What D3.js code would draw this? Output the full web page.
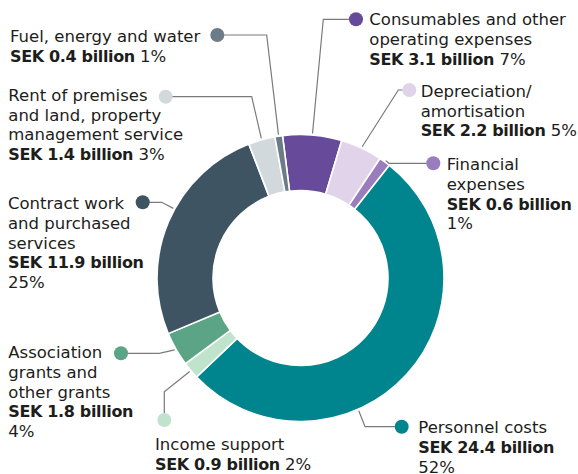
<!DOCTYPE html>
<html>
<head>
<meta charset="utf-8">
<script src="https://cdn.jsdelivr.net/npm/d3@7"></script>
<style>
  html, body { margin: 0; padding: 0; background: #fff; }
  svg { display: block; }
  text { font-family: "DejaVu Sans", sans-serif; fill: #1d1d1b; }
</style>
</head>
<body>
<svg id="chart" width="578" height="474"></svg>
<script>
// Cost categories, clockwise from the top of the ring
const categories = [
  "Consumables and other\noperating expenses",
  "Depreciation/\namortisation",
  "Financial\nexpenses",
  "Personnel costs",
  "Income support",
  "Association\ngrants and\nother grants",
  "Contract work\nand purchased\nservices",
  "Rent of premises\nand land, property\nmanagement service",
  "Fuel, energy and water"
];
// Amounts in SEK billion
const valuesBn = [3.1, 2.2, 0.6, 24.4, 0.9, 1.8, 11.9, 1.4, 0.4];
// Share of total costs, per cent
const sharePct = [7, 5, 1, 52, 2, 4, 25, 3, 1];

const palette = ["#674a9a", "#e1d3ea", "#9a7dbc", "#00848e", "#bfe3cc",
                 "#5ca486", "#3f5463", "#d2d9dd", "#6b7b87"];

// Label placement: text origin, first baseline, marker dot, leader elbow,
// optional leader angle (deg) and whether the percentage sits on its own line
const labelLayout = [
  { x: 369.3, y: 25,    dot: [356, 19.3],   elbow: [323.3, 19.3],  pctBreak: false },
  { x: 420.7, y: 96.7,  dot: [409.3, 90],   elbow: [398.3, 90],    pctBreak: false },
  { x: 446.7, y: 170,   dot: [433.3, 163.3],elbow: [389, 163.3],   pctBreak: true },
  { x: 418.3, y: 433.3, dot: [401.7, 426.7],elbow: [365, 426.7],   pctBreak: true, angle: 156.3 },
  { x: 155,   y: 450,   dot: [164.3, 420],  elbow: [164.3, 391.7], pctBreak: false },
  { x: 8.3,   y: 358,   dot: [121, 353.3],  elbow: [159.3, 353.3], pctBreak: true },
  { x: 8,     y: 209,   dot: [142.7, 202.3],elbow: [161.7, 202.3], pctBreak: true, angle: 298.7 },
  { x: 8.3,   y: 100.7, dot: [165.7, 96.7], elbow: [251.7, 96.7],  pctBreak: false },
  { x: 10,    y: 41.7,  dot: [217.3, 35],   elbow: [266.7, 35],    pctBreak: false }
];

const svg = d3.select("#chart");
const cx = 300.5, cy = 278;
const rOuter = 143.5, rInner = 87.5;
const lineH = 19.8;
const fontSize = 16.5;
const boldSize = 16;
const rad = Math.PI / 180;
const start = -7.2 * rad;

// Section title (sits above the visible area's top edge)
svg.append("text")
  .attr("x", 8).attr("y", 0)
  .attr("font-size", 26).attr("font-weight", "bold")
  .text("Costs");

const rows = categories.map((c, i) => ({
  name: c, value: valuesBn[i], pct: sharePct[i], color: palette[i], layout: labelLayout[i]
}));

const pie = d3.pie().sort(null).value(d => d.value)
  .startAngle(start).endAngle(start + 2 * Math.PI);
const arcs = pie(rows);
const arc = d3.arc().innerRadius(rInner).outerRadius(rOuter);

const ring = svg.append("g").attr("transform", `translate(${cx},${cy})`);
ring.selectAll("path")
  .data(arcs)
  .join("path")
  .attr("d", arc)
  .attr("fill", d => d.data.color)
  .attr("stroke", "#fff")
  .attr("stroke-width", 1.6)
  .attr("stroke-linejoin", "round");

// Leader lines: dot -> elbow -> outer edge of the slice
const leaders = svg.append("g");
arcs.forEach(a => {
  const L = a.data.layout;
  const ang = L.angle != null ? L.angle * rad : (a.startAngle + a.endAngle) / 2;
  const r = rOuter + 1.5;
  const end = [cx + Math.sin(ang) * r, cy - Math.cos(ang) * r];
  leaders.append("polyline")
    .attr("points", [L.dot, L.elbow, end].map(p => p.join(",")).join(" "))
    .attr("fill", "none")
    .attr("stroke", "#7a7a7a")
    .attr("stroke-width", 1.2);
  leaders.append("circle")
    .attr("cx", L.dot[0]).attr("cy", L.dot[1]).attr("r", 7)
    .attr("fill", a.data.color);
});

// Label text blocks
const labels = svg.append("g");
rows.forEach(d => {
  const L = d.layout;
  const t = labels.append("text").attr("font-size", fontSize);
  const lines = d.name.split("\n");
  let n = 0;
  lines.forEach(s => {
    t.append("tspan").attr("x", L.x).attr("y", L.y + n * lineH).text(s);
    n++;
  });
  const valueText = `SEK ${d.value.toFixed(1)} billion`;
  t.append("tspan").attr("x", L.x).attr("y", L.y + n * lineH)
    .attr("font-weight", "bold")
    .attr("font-size", boldSize)
    .attr("letter-spacing", -0.35)
    .text(valueText);
  if (L.pctBreak) {
    n++;
    t.append("tspan").attr("x", L.x).attr("y", L.y + n * lineH).text(`${d.pct}%`);
  } else {
    t.append("tspan").attr("font-size", fontSize).text(`\u00a0${d.pct}%`);
  }
});
</script>
</body>
</html>
